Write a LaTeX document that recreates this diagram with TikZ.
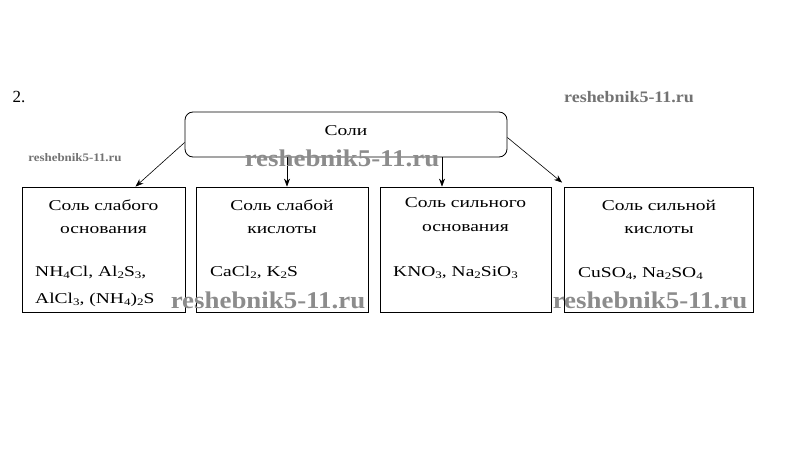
\documentclass[tikz,border=0pt]{standalone}
\usepackage{fontspec}
\setmainfont{Liberation Serif}[FakeStretch=1.3]
\newfontfamily\wmfont{Liberation Serif}[FakeStretch=1.12,BoldFont={Liberation Serif Bold},BoldFeatures={FakeStretch=1.12}]
\newfontfamily\numfont{Liberation Serif}
\usetikzlibrary{arrows.meta}
\newcommand\sbs[1]{\raisebox{-0.35ex}{\fontsize{10}{10}\selectfont #1}}
\begin{document}
\begin{tikzpicture}[x=1pt,y=-1pt,
  txt/.style={inner sep=0pt,font=\fontsize{15}{18}\selectfont},
  box/.style={draw,line width=0.8pt,inner sep=0pt,minimum height=125pt},
  arr/.style={draw,line width=0.6pt,-{Stealth[length=8pt,width=6pt]}},
  wmbig/.style={inner sep=0pt,text=black!45,font=\wmfont\bfseries\fontsize{24}{24}\selectfont},
  wmsmall/.style={inner sep=0pt,text=black!55,font=\wmfont\bfseries\fontsize{16}{16}\selectfont}]
\useasboundingbox (0,0) rectangle (811,449);
\fill[white] (0,0) rectangle (811,449);
\node[inner sep=0pt,font=\numfont\fontsize{17}{18}\selectfont] (num) at (19,97) {2.};
\node[draw,line width=0.8pt,rounded corners=8pt,minimum width=322pt,minimum height=45pt] (top) at (346,134.5) {};
\node[txt] (soli) at (346,131) {Соли};
\node[box,minimum width=163pt] (b1) at (103.5,249.5) {};
\node[box,minimum width=172pt] (b2) at (282,249.5) {};
\node[box,minimum width=171pt] (b3) at (465.5,249.5) {};
\node[box,minimum width=189pt] (b4) at (659,249.5) {};
% box texts
\node[txt] (t1a) at (103.5,205) {Соль слабого};
\node[txt] (t1b) at (103.5,230) {основания};
\node[txt,anchor=base west] (t1c) at (35,276) {NH\sbs{4}Cl, Al\sbs{2}S\sbs{3},};
\node[txt,anchor=base west] (t1d) at (35,303) {AlCl\sbs{3}, (NH\sbs{4})\sbs{2}S};
\node[txt] (t2a) at (282,205) {Соль слабой};
\node[txt] (t2b) at (282,230) {кислоты};
\node[txt,anchor=base west] (t2c) at (210,276) {CaCl\sbs{2}, K\sbs{2}S};
\node[txt] (t3a) at (465.5,203) {Соль сильного};
\node[txt] (t3b) at (465.5,228) {основания};
\node[txt,anchor=base west] (t3c) at (393,276) {KNO\sbs{3}, Na\sbs{2}SiO\sbs{3}};
\node[txt] (t4a) at (659,205) {Соль сильной};
\node[txt] (t4b) at (659,230) {кислоты};
\node[txt,anchor=base west] (t4c) at (578,277) {CuSO\sbs{4}, Na\sbs{2}SO\sbs{4}};
% arrows
\draw[arr] ([yshift=-8pt]top.west) -- ([xshift=32pt]b1.north);
\draw[arr] ([xshift=-59pt]top.south) -- ([xshift=5pt]b2.north);
\draw[arr] ([xshift=96pt]top.south) -- ([xshift=-23.5pt]b3.north);
\draw[arr] ([yshift=-3pt]top.east) -- ([shift={(-2pt,4pt)}]b4.north west);
% watermarks
\node[wmsmall] (w1) at (629,97) {reshebnik5-11.ru};
\node[wmsmall,font=\wmfont\bfseries\fontsize{11.5}{12}\selectfont] (w2) at (75,158) {reshebnik5-11.ru};
\node[wmbig] (w3) at (342,158) {reshebnik5-11.ru};
\node[wmbig] (w4) at (268,300) {reshebnik5-11.ru};
\node[wmbig] (w5) at (650,300) {reshebnik5-11.ru};
\end{tikzpicture}
\end{document}
